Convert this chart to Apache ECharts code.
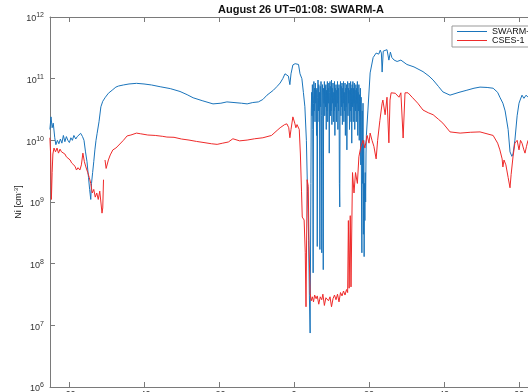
<!DOCTYPE html>
<html>
<head>
<meta charset="utf-8">
<script src="https://cdn.jsdelivr.net/npm/echarts@6/dist/echarts.min.js"></script>
<style>html,body{margin:0;padding:0;background:#fff}#c{width:528px;height:392px}</style>
</head>
<body>
<div id="c"></div>
<script>
const titleText = 'August 26 UT=01:08: SWARM-A';
const seriesNames = ['SWARM-A', 'CSES-1'];
const xTicks = [-60, -40, -20, 0, 20, 40, 60];
const xRange = [-65.07, 65.6];
const yRange = [1e6, 1e12];

const swarmA = [
[-65.1,1.5e10],[-64.8,2.4e10],[-64.5,1.6e10],[-64.2,1.9e10],[-63.8,1.1e10],[-63.5,8.5e9],[-63.1,1.0e10],[-62.7,8.8e9],[-62.3,1.05e10],[-61.9,9.0e9],[-61.5,1.2e10],[-61.1,9.5e9],[-60.7,1.15e10],[-60.3,1.0e10],[-59.9,9.2e9],[-59.5,1.1e10],[-59.1,1.0e10],[-58.7,1.2e10],[-58.2,1.05e10],[-57.8,1.15e10],[-57.3,1.1e10],[-56.9,1.3e10],[-56.4,1.15e10],[-56.0,1.0e10],[-55.6,6.5e9],[-55.2,4.5e9],[-54.8,2.5e9],[-54.5,1.6e9],[-54.2,1.1e9],[-54.0,2.0e9],[-53.7,3.0e9],[-53.4,4.5e9],[-53.1,7e9],[-52.8,1.0e10],[-52.5,1.3e10],[-52.0,2.0e10],[-51.5,3.5e10],[-51.0,4.3e10],[-50.3,5.0e10],[-49.5,5.8e10],[-48.5,6.5e10],[-47.5,7.3e10],[-46.8,7.6e10],[-45.5,7.9e10],[-44,8.2e10],[-42,8.4e10],[-40,8.2e10],[-38,7.9e10],[-35.7,7.4e10],[-33,6.9e10],[-30.4,6.2e10],[-28.5,5.5e10],[-26.9,4.9e10],[-24.5,4.4e10],[-21.6,3.9e10],[-19.5,4.0e10],[-17.9,4.2e10],[-16,4.1e10],[-14,4.0e10],[-12.5,3.9e10],[-11,4.1e10],[-9.5,4.2e10],[-8.3,4.6e10],[-7.2,5.4e10],[-5.5,6.5e10],[-4.5,7.5e10],[-3.7,8.5e10],[-3.0,1.0e11],[-2.4,1.2e11],[-1.9,1.28e11],[-1.5,1.1e11],[-1.1,8.0e10],[-0.8,1.2e11],[-0.3,1.67e11],[0.3,1.75e11],[0.8,1.65e11],[1.2,1.7e11],[1.6,1.2e11],[2.1,1.0e11],[2.5,6e10],[2.9,3.5e10],[3.3,1.0e10],[3.6,1.5e9],[3.9,2.4e8],[4.1,3e7],[4.3,7.5e6],
[4.5,2e9],[4.6,3e10],[4.7,6e10],[4.8,2.5e10],[4.9,8e10],[5.0,1.5e10],[5.1,7.1e7],[5.2,4e10],[5.3,9e10],[5.4,3e10],[5.5,7e10],[5.6,2e10],[5.7,8.5e10],[5.8,4e10],[5.9,6.5e10],[6.0,1.2e10],[6.1,7e10],[6.2,1.9e8],[6.3,5e10],[6.4,9.5e10],[6.5,3e10],[6.6,8e10],[6.7,2e10],[6.8,6e10],[6.9,1.7e8],[7.0,7.5e10],[7.1,3.5e10],[7.2,9e10],[7.3,2.5e10],[7.4,1.5e8],[7.5,6e10],[7.6,8e10],[7.7,2e10],[7.8,8e7],[7.9,7e10],[8.0,4e10],[8.1,9e10],[8.2,2.5e10],[8.3,7.5e10],[8.4,3.5e10],[8.5,8e10],[8.6,1.5e10],[8.7,6.5e10],[8.8,3e10],[8.9,9e10],[9.0,2e10],[9.1,7e10],[9.2,4e10],[9.3,8.5e10],[9.4,6.2e9],[9.5,6e10],[9.6,9e10],[9.7,2.5e10],[9.8,7.5e10],[9.9,3e10],[10.0,9.5e10],[10.1,1.8e10],[10.2,7e10],[10.3,4e10],[10.4,8.5e10],[10.5,2e10],[10.6,6e10],[10.7,3e10],[10.8,9e10],[10.9,1.2e10],[11.0,7e10],[11.1,3.5e10],[11.2,8e10],[11.3,2e10],[11.4,6.5e10],[11.5,4e10],[11.6,9e10],[11.7,1.5e10],[11.8,7e10],[11.9,3e10],[12.0,8e10],[12.1,2e9],[12.2,8.3e8],[12.3,6e10],[12.4,9e10],[12.5,2.5e10],[12.6,7.5e10],[12.7,3.5e10],[12.8,8.5e10],[12.9,1.8e10],[13.0,7e10],[13.1,4e10],[13.2,9e10],[13.3,2e10],[13.4,6e10],[13.5,3e10],[13.6,8.5e10],[13.7,1.2e10],[13.8,7e10],[13.9,3.5e10],[14.0,8e10],[14.1,7e9],[14.2,6.5e10],[14.3,9e10],[14.4,2.5e10],[14.5,7e10],[14.6,4e10],[14.7,8.5e10],[14.8,1.5e10],[14.9,6.5e10],[15.0,3e10],[15.1,9e10],[15.2,2e10],[15.3,7e10],[15.4,9e9],[15.5,8e10],[15.6,3.5e10],[15.7,9e10],[15.8,2e10],[15.9,7e10],[16.0,4e10],[16.1,8.5e10],[16.2,1.5e10],[16.3,6.5e10],[16.4,3e10],[16.5,8e10],[16.6,2e10],[16.7,7e10],[16.8,4e10],[16.9,9e10],[17.0,1.2e10],[17.1,6e10],[17.2,3e10],[17.3,8e10],[17.4,1e10],[17.5,5.5e10],[17.6,2.5e10],[17.7,7e10],[17.8,4e9],[17.9,5e10],[18.0,1e9],[18.1,1.5e8],[18.2,3e10],[18.3,2e9],[18.4,4e10],[18.5,3e8],[18.6,1e10],[18.7,1.3e8],[18.8,2e9],[18.9,5e8],[19.0,3e9],[19.1,1e9],[19.2,6e9],[19.3,1.2e10],
[19.7,3e10],[20.3,1.24e11],[21.1,2.2e11],[21.9,2.6e11],[22.6,2.5e11],[23.0,2.9e11],[23.3,2.6e11],[23.5,1.28e11],[23.8,2.8e11],[24.3,2.9e11],[24.8,2.95e11],[25.3,2.0e11],[25.7,2.7e11],[26.1,2.2e11],[26.7,2.0e11],[27.5,1.9e11],[28.5,2.0e11],[30.1,1.7e11],[32,1.55e11],[34.4,1.3e11],[36,1.1e11],[37.1,9.5e10],[38.5,7.5e10],[39.7,6.1e10],[41.6,5.4e10],[44,6.0e10],[46.1,6.5e10],[48,7.0e10],[49.6,7.3e10],[51.5,7.2e10],[53.1,7.0e10],[54.3,6.0e10],[54.9,5.0e10],[55.7,4.0e10],[56.3,3.0e10],[57.1,1.5e10],[57.6,6.5e9],[58.1,5.5e9],[58.4,6.0e9],[58.9,1.0e10],[59.5,2.5e10],[60.0,4.0e10],[60.3,4.5e10],[60.8,5.4e10],[61.3,4.8e10],[61.9,5.4e10],[62.4,5.0e10]
];

const cses1 = [
[-65.1,1.1e10],[-64.9,6e9],[-64.7,1.1e9],[-64.5,3e9],[-64.3,6e9],[-64.0,7.5e9],[-63.6,6.5e9],[-63.2,7.5e9],[-62.8,6.2e9],[-62.4,7.2e9],[-62.0,6.5e9],[-61.6,7.0e9],[-61.1,6.0e9],[-60.7,5.4e9],[-60.3,5.8e9],[-59.7,4.8e9],[-59.3,4.3e9],[-58.9,4.6e9],[-58.4,3.8e9],[-58.0,3.3e9],[-57.6,3.6e9],[-57.1,3.3e9],[-56.7,4.0e9],[-56.3,6.2e9],[-55.9,4.5e9],[-55.5,3.7e9],[-55.0,3.0e9],[-54.6,2.5e9],[-54.2,2.0e9],[-53.8,1.4e9],[-53.4,1.6e9],[-53.0,1.2e9],[-52.6,1.4e9],[-52.2,1.1e9],[-51.8,1.5e9],[-51.5,1.0e9],[-51.2,6.6e8],[-51.0,8e8],[-50.8,2.3e9],[-50.6,'-'],[-50.4,4.8e9],[-50.1,3.5e9],[-49.8,3.3e9],[-49.5,4.8e9],[-49.0,5.8e9],[-48.3,7.0e9],[-47.5,7.5e9],[-46.7,8.4e9],[-45.5,1.0e10],[-44.5,1.18e10],[-43.5,1.22e10],[-42,1.31e10],[-41,1.28e10],[-39,1.22e10],[-37,1.2e10],[-35,1.16e10],[-33.9,1.13e10],[-32,1.12e10],[-30,1.05e10],[-28,1.01e10],[-26,9.6e9],[-24,9.2e9],[-22,8.8e9],[-20.5,8.6e9],[-19,9.0e9],[-17.5,9.4e9],[-16.3,1.06e10],[-14.5,9.8e9],[-12.5,1.01e10],[-10.5,1.06e10],[-8.3,1.1e10],[-6,1.2e10],[-4.5,1.45e10],[-3.7,1.6e10],[-2.5,1.8e10],[-1.9,1.85e10],[-1.4,1.6e10],[-1.1,1.1e10],[-0.8,1.5e10],[-0.3,2.4e10],[0.2,1.9e10],[0.5,1.6e10],[0.8,1.8e10],[1.1,1.9e10],[1.4,1.5e10],[1.7,6e9],[2.0,1.5e9],[2.2,5.7e8],[2.7,5.1e8],[3.0,1.5e8],[3.2,2.0e7],[3.5,2.3e9],[3.8,1.8e9],[4.0,2e8],[4.3,3.3e7],[4.6,2.5e7],
[4.9,2.9e7],[5.2,2.4e7],[5.5,3.1e7],[5.9,2.7e7],[6.2,3.0e7],[6.6,2.2e7],[7.0,2.9e7],[7.4,2.6e7],[7.7,3.2e7],[8.1,2.1e7],[8.5,2.8e7],[8.9,3.0e7],[9.2,2.5e7],[9.6,2.9e7],[10.0,2.0e7],[10.4,2.7e7],[10.8,3.1e7],[11.2,2.6e7],[11.6,3.2e7],[12.0,2.4e7],[12.4,3.4e7],[12.8,3.0e7],[13.2,3.6e7],[13.6,3.1e7],[14.0,3.8e7],
[14.3,3.4e7],[14.5,5e8],[14.7,4e7],[15.0,6e8],[15.2,4.2e7],[15.6,3.0e9],[16.0,1.4e9],[16.4,3.0e9],[16.9,2.0e9],[17.3,5.4e9],[17.8,7.8e9],[18.4,1.0e10],[18.9,7.5e9],[19.5,1.2e10],[20.0,9e9],[20.3,1.31e10],[20.8,1.0e10],[21.3,8e9],[21.9,5.0e9],[22.3,1.0e10],[22.9,2.1e10],[23.5,4.0e10],[23.7,4.5e10],[24.3,2.6e10],[24.8,5.0e10],[25.3,9.1e9],[25.6,4.5e10],[25.9,5.9e10],[26.4,6.3e10],[27.0,5.8e10],[27.5,6.1e10],[28.0,5.0e10],[28.5,5.9e10],[29.1,1.09e10],[29.6,5.9e10],[30.4,5.9e10],[31.5,5.0e10],[33,4.0e10],[34.4,3.1e10],[35.8,2.8e10],[37.1,2.6e10],[38.5,2.2e10],[39.7,1.9e10],[41.6,1.37e10],[44.3,1.31e10],[47,1.35e10],[49.6,1.37e10],[52,1.25e10],[53.1,1.2e10],[54.3,9e9],[54.9,7e9],[55.5,5e9],[55.7,3.7e9],[56.0,4.8e9],[56.5,4.0e9],[57.1,2.5e9],[57.6,1.7e9],[57.9,2.8e9],[58.4,5.4e9],[58.9,9e9],[59.5,1.0e10],[60.0,7e9],[60.4,1.0e10],[60.8,9e9],[61.3,7e9],[61.6,6.2e9],[62.0,8e9],[62.4,1.0e10]
];

const axisColor = '#7a7a7a';
const font = 'Liberation Sans, Arial, Helvetica, sans-serif';
const chart = echarts.init(document.getElementById('c'), null, {renderer: 'canvas'});
chart.setOption({
  animation: false,
  backgroundColor: '#fff',
  title: {
    text: titleText, left: 218, top: 4, padding: 0,
    textStyle: {fontSize: 11, fontWeight: 'bold', color: '#111', fontFamily: font}
  },
  legend: {
    orient: 'vertical', left: 452, top: 26,
    padding: [1, 4, 2, 5], itemGap: 0, itemWidth: 30, itemHeight: 9,
    borderColor: '#999', borderWidth: 1, backgroundColor: '#fff',
    textStyle: {fontSize: 9, color: '#111', fontFamily: font, lineHeight: 9},
    data: [
      {name: seriesNames[0], icon: 'path://M0,4.5 L30,4.5 L30,5.5 L0,5.5 Z'},
      {name: seriesNames[1], icon: 'path://M0,4.5 L30,4.5 L30,5.5 L0,5.5 Z'}
    ]
  },
  grid: {left: 50, top: 17, width: 490, height: 370, containLabel: false, outerBoundsMode: 'none'},
  xAxis: [{
    type: 'value', min: xRange[0], max: xRange[1], position: 'bottom',
    axisLine: {show: true, onZero: false, lineStyle: {color: axisColor, width: 1}},
    axisTick: {show: true, inside: true, length: 5, lineStyle: {color: axisColor}, customValues: xTicks},
    axisLabel: {show: true, fontSize: 9, color: '#333', margin: 3, fontFamily: font, customValues: xTicks},
    splitLine: {show: false}
  }, {
    type: 'value', min: xRange[0], max: xRange[1], position: 'top',
    axisLine: {show: true, onZero: false, lineStyle: {color: axisColor, width: 1}},
    axisTick: {show: true, inside: true, length: 5, lineStyle: {color: axisColor}, customValues: xTicks},
    axisLabel: {show: false},
    splitLine: {show: false}
  }],
  yAxis: {
    type: 'log', logBase: 10, min: yRange[0], max: yRange[1], interval: 1, position: 'left',
    name: 'Ni [cm{s|-3}]', nameLocation: 'middle', nameGap: 25, nameMoveOverlap: false,
    nameTextStyle: {fontSize: 9, color: '#222', fontFamily: font,
      rich: {s: {fontSize: 6, color: '#222', fontFamily: font, padding: [0, 0, 6, 0]}}},
    axisLine: {show: true, onZero: false, lineStyle: {color: axisColor, width: 1}},
    axisTick: {show: true, inside: true, length: 5, lineStyle: {color: axisColor}},
    axisLabel: {
      margin: 6, color: '#333', fontSize: 9, fontFamily: font,
      formatter: function (v) { return '{b|10}{s|' + Math.round(Math.log10(v)) + '}'; },
      rich: {
        b: {fontSize: 9, color: '#333', fontFamily: font, padding: [4, 0, 0, 0]},
        s: {fontSize: 7, color: '#333', fontFamily: font, padding: [0, 0, 3, 0]}
      }
    },
    splitLine: {show: false}
  },
  series: [{
    name: seriesNames[0], type: 'line', data: swarmA, xAxisIndex: 0,
    symbol: 'none', showSymbol: false, connectNulls: false,
    lineStyle: {color: '#1a74bb', width: 1}, itemStyle: {color: '#1a74bb'}
  }, {
    name: seriesNames[1], type: 'line', data: cses1, xAxisIndex: 0,
    symbol: 'none', showSymbol: false, connectNulls: false,
    lineStyle: {color: '#ee2a2a', width: 1}, itemStyle: {color: '#ee2a2a'}
  }]
});
</script>
</body>
</html>
